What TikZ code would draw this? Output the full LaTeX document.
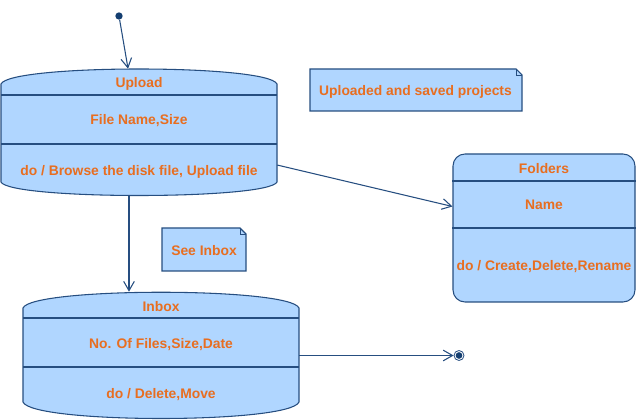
\documentclass[tikz,border=0pt]{standalone}
\usepackage{fontspec}
\setmainfont{Liberation Sans}
\usetikzlibrary{arrows.meta}
\definecolor{boxfill}{RGB}{176,214,255}
\definecolor{edgeblue}{RGB}{38,78,128}
\definecolor{dotblue}{RGB}{20,62,112}
\definecolor{txtorange}{RGB}{232,110,32}

\begin{document}
\begin{tikzpicture}[
    x=0.75pt, y=-0.75pt,
    state/.style={draw=edgeblue, fill=boxfill, line width=0.8pt},
    sep/.style={draw=edgeblue, line width=0.8pt},
    hull/.style={inner sep=0pt, minimum width=207pt, minimum height=95.25pt},
    lbl/.style={text=txtorange, font=\fontsize{10.4}{12}\selectfont\bfseries, inner sep=1pt},
    a/.style={-{Straight Barb[length=7pt, width=8pt]}, draw=edgeblue, line width=0.8pt}
  ]
  \useasboundingbox (0,0) rectangle (636,420);

  % ---- Upload (top left) ----
  \draw[state] (1,84) .. controls (10,64) and (268,64) .. (277,84) -- (277,182)
    .. controls (268,200) and (10,200) .. (1,182) -- cycle;
  \draw[sep] (1,95) -- (277,95);
  \draw[sep] (1,144) -- (277,144);
  \node[hull] (upload) at (139,132.5) {};
  \node[lbl] (uplName) at (139,83.5)  {Upload};
  \node[lbl] (uplAttr) at (139,120.5) {File Name,Size};
  \node[lbl] (uplDo)   at (139,171.5) {do / Browse the disk file, Upload file};

  % ---- Inbox (bottom left) ----
  \draw[state] (23,308) .. controls (32,287) and (290,287) .. (299,308) -- (299,402)
    .. controls (290,424) and (32,424) .. (23,402) -- cycle;
  \draw[sep] (23,318) -- (299,318);
  \draw[sep] (23,367) -- (299,367);
  \node[hull] (inbox) at (161,355.5) {};
  \node[lbl] (inbName) at (161,306.5) {Inbox};
  \node[lbl] (inbAttr) at (161,344.5) {No. Of Files,Size,Date};
  \node[lbl] (inbDo)   at (161,394.5) {do / Delete,Move};

  % ---- Folders (right) ----
  \node[state, rounded corners=9pt, minimum width=136.5pt, minimum height=111pt, inner sep=0pt]
    (folders) at (544,228) {};
  \draw[sep] (folders.west |- 0,181) -- (folders.east |- 0,181);
  \draw[sep] (folders.west |- 0,228) -- (folders.east |- 0,228);
  \node[lbl] (fldName) at (544,168.5) {Folders};
  \node[lbl] (fldAttr) at (544,204.5) {Name};
  \node[lbl] (fldDo)   at (544,266.5) {do / Create,Delete,Rename};

  % ---- Notes ----
  \draw[state] (310,69) -- (516,69) -- (522,75) -- (522,111) -- (310,111) -- cycle;
  \draw[sep, line width=0.5pt] (516,69) -- (516,75) -- (522,75);
  \node[lbl] (noteSaved) at (415.5,91.5) {Uploaded and saved projects};

  \draw[state] (162,228) -- (240,228) -- (246,234) -- (246,271) -- (162,271) -- cycle;
  \draw[sep, line width=0.5pt] (240,228) -- (240,234) -- (246,234);
  \node[lbl] (noteInbox) at (204,250.5) {See Inbox};

  % ---- Pseudo states ----
  \node[circle, fill=dotblue, minimum size=5.5pt, inner sep=0pt] (start) at (119,16) {};
  \node[circle, draw=edgeblue, fill=white, line width=0.6pt, minimum size=7.5pt, inner sep=0pt,
    path picture={\fill[dotblue] (path picture bounding box.center) circle (2.5pt);}]
    (final) at (459,355.5) {};

  % ---- Transitions ----
  \draw[a] (start) -- (upload);
  \draw[a] (upload) -- (folders);
  \draw[a] ([xshift=-7.5pt]upload.south) -- ([xshift=-7.5pt]upload.south |- inbox.north);
  \draw[a] (inbox) -- (final);

\end{tikzpicture}
\end{document}
